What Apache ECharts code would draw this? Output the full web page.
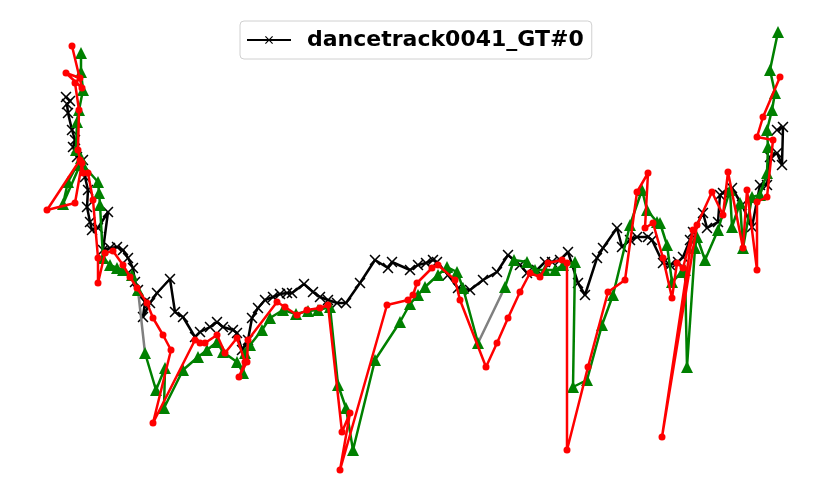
<!DOCTYPE html>
<html>
<head>
<meta charset="utf-8">
<script src="https://cdn.jsdelivr.net/npm/echarts@6/dist/echarts.min.js"></script>
<style>html,body{margin:0;padding:0;background:#fff}#c{width:831px;height:504px}</style>
</head>
<body>
<div id="c"></div>
<script>
// Trajectory points (x, y in image units; y grows downward)
const gtName = 'dancetrack0041_GT#0';
const gtTrack = [[66,97],[70,101],[67,104],[68,113],[72,130],[75,140],[73,147],[77,157],[83,160],[85,177],[88,190],[87,207],[90,222],[92,230],[98,228],[108,212],[103,250],[110,248],[117,247],[123,250],[128,258],[133,268],[135,282],[138,290],[145,302],[143,317],[150,303],[157,293],[170,279],[175,312],[183,317],[195,337],[200,332],[210,327],[217,322],[223,327],[233,330],[237,333],[242,350],[248,340],[252,318],[258,308],[265,300],[273,297],[280,294],[287,293],[292,293],[304,284],[313,292],[320,297],[328,300],[337,303],[346,303],[360,283],[375,260],[388,268],[392,262],[410,270],[418,265],[426,263],[433,260],[437,262],[448,275],[458,288],[470,290],[483,280],[497,272],[508,255],[520,265],[527,273],[537,270],[545,262],[552,262],[560,260],[568,252],[578,283],[585,295],[597,258],[603,248],[617,228],[622,247],[630,240],[637,237],[648,237],[652,240],[663,263],[670,265],[678,262],[683,257],[690,240],[693,232],[703,213],[707,228],[718,222],[720,195],[723,193],[732,188],[742,205],[752,227],[760,185],[767,185],[770,157],[777,153],[782,165],[783,127],[777,130]];
const greenTrack = [[81,53],[81,72],[83,90],[79,110],[77,122],[76,150],[81,158],[68,182],[63,204],[80,165],[83,165],[98,182],[99,193],[100,205],[103,258],[110,265],[117,268],[123,270],[132,275],[138,290],null,[145,353],[156,390],[165,368],[164,408],[183,370],[198,357],[207,350],[217,342],[223,352],[237,362],[243,373],[245,353],[250,345],[262,330],[270,318],[283,310],[296,314],[308,311],[318,310],[330,307],[338,385],[346,408],[353,450],[375,360],[400,322],[410,304],[418,295],[425,287],[438,275],[447,267],[457,272],[463,288],[478,343],null,[505,287],[514,260],[527,262],[535,270],[545,270],[555,270],[563,265],[575,262],[573,387],[587,380],[602,325],[613,295],[630,225],[642,190],[647,210],[657,222],[660,223],[667,245],[672,282],[682,272],[685,270],[687,367],[695,248],[697,237],[705,260],[718,230],[730,190],[732,227],[740,203],[743,248],[752,197],[760,195],[767,173],[768,147],[767,130],[772,110],[775,93],[770,70],[778,32]];
const gapTrack = [[138,290],[145,353],null,[478,343],[505,287]];
const redTrack = [[72,46],[82,88],[66,73],[80,78],[75,83],[79,110],[78,150],[80,160],[47,210],[75,203],[82,163],[83,173],[88,173],[93,200],[98,258],[98,283],[105,253],[113,251],[123,265],[130,277],[137,288],[147,303],[153,318],[163,335],[171,350],[153,423],[195,340],[200,343],[205,343],[217,335],[225,353],[237,338],[245,362],[239,377],[247,362],[248,340],[277,302],[285,307],[297,315],[307,310],[320,308],[328,305],[342,432],[350,413],[340,470],[387,305],[408,300],[413,295],[417,283],[432,268],[438,265],[455,280],[460,300],[486,367],[497,343],[508,318],[520,292],[530,273],[540,277],[548,263],[562,260],[567,263],[567,450],[588,367],[608,292],[625,280],[637,192],[648,173],[645,228],[653,223],[663,258],[672,298],[677,263],[683,268],[693,230],[662,437],[697,225],[712,192],[723,215],[728,172],[743,248],[747,190],[757,270],[757,202],[767,197],[773,140],[757,137],[763,117],[780,77]];

const xMark = 'path://M0,1L1,0L5,4L9,0L10,1L6,5L10,9L9,10L5,6L1,10L0,9L4,5Z';

const chart = echarts.init(document.getElementById('c'), null, {renderer: 'canvas'});
chart.setOption({
  animation: false,
  backgroundColor: '#fff',
  grid: {left: 0, right: 0, top: 0, bottom: 0},
  xAxis: {type: 'value', min: 0, max: 831, show: false},
  yAxis: {type: 'value', min: 0, max: 504, inverse: true, show: false},
  legend: {
    data: [gtName],
    left: 240, top: 21,
    padding: [8, 8, 8, 6],
    itemWidth: 44, itemHeight: 10,
    borderColor: '#d0d0d0', borderWidth: 1, borderRadius: 4,
    textStyle: {fontFamily: 'DejaVu Sans', fontWeight: 'bold', fontSize: 22, color: '#000', padding: [0, 0, 0, 11]}
  },
  series: [
    {name: gtName, type: 'line', data: gtTrack, symbol: xMark, symbolSize: 11, z: 2,
     lineStyle: {color: '#000', width: 2.5}, itemStyle: {color: '#000'}},
    {name: 'gap', type: 'line', data: gapTrack, symbol: 'none', z: 3, connectNulls: false,
     lineStyle: {color: '#808080', width: 2.5}},
    {name: 'green', type: 'line', data: greenTrack, symbol: 'triangle', symbolSize: 12, z: 4,
     lineStyle: {color: '#008000', width: 2.5}, itemStyle: {color: '#008000'}},
    {name: 'red', type: 'line', data: redTrack, symbol: 'circle', symbolSize: 7, z: 5,
     lineStyle: {color: '#ff0000', width: 2.5}, itemStyle: {color: '#ff0000'}}
  ]
});
</script>
</body>
</html>
